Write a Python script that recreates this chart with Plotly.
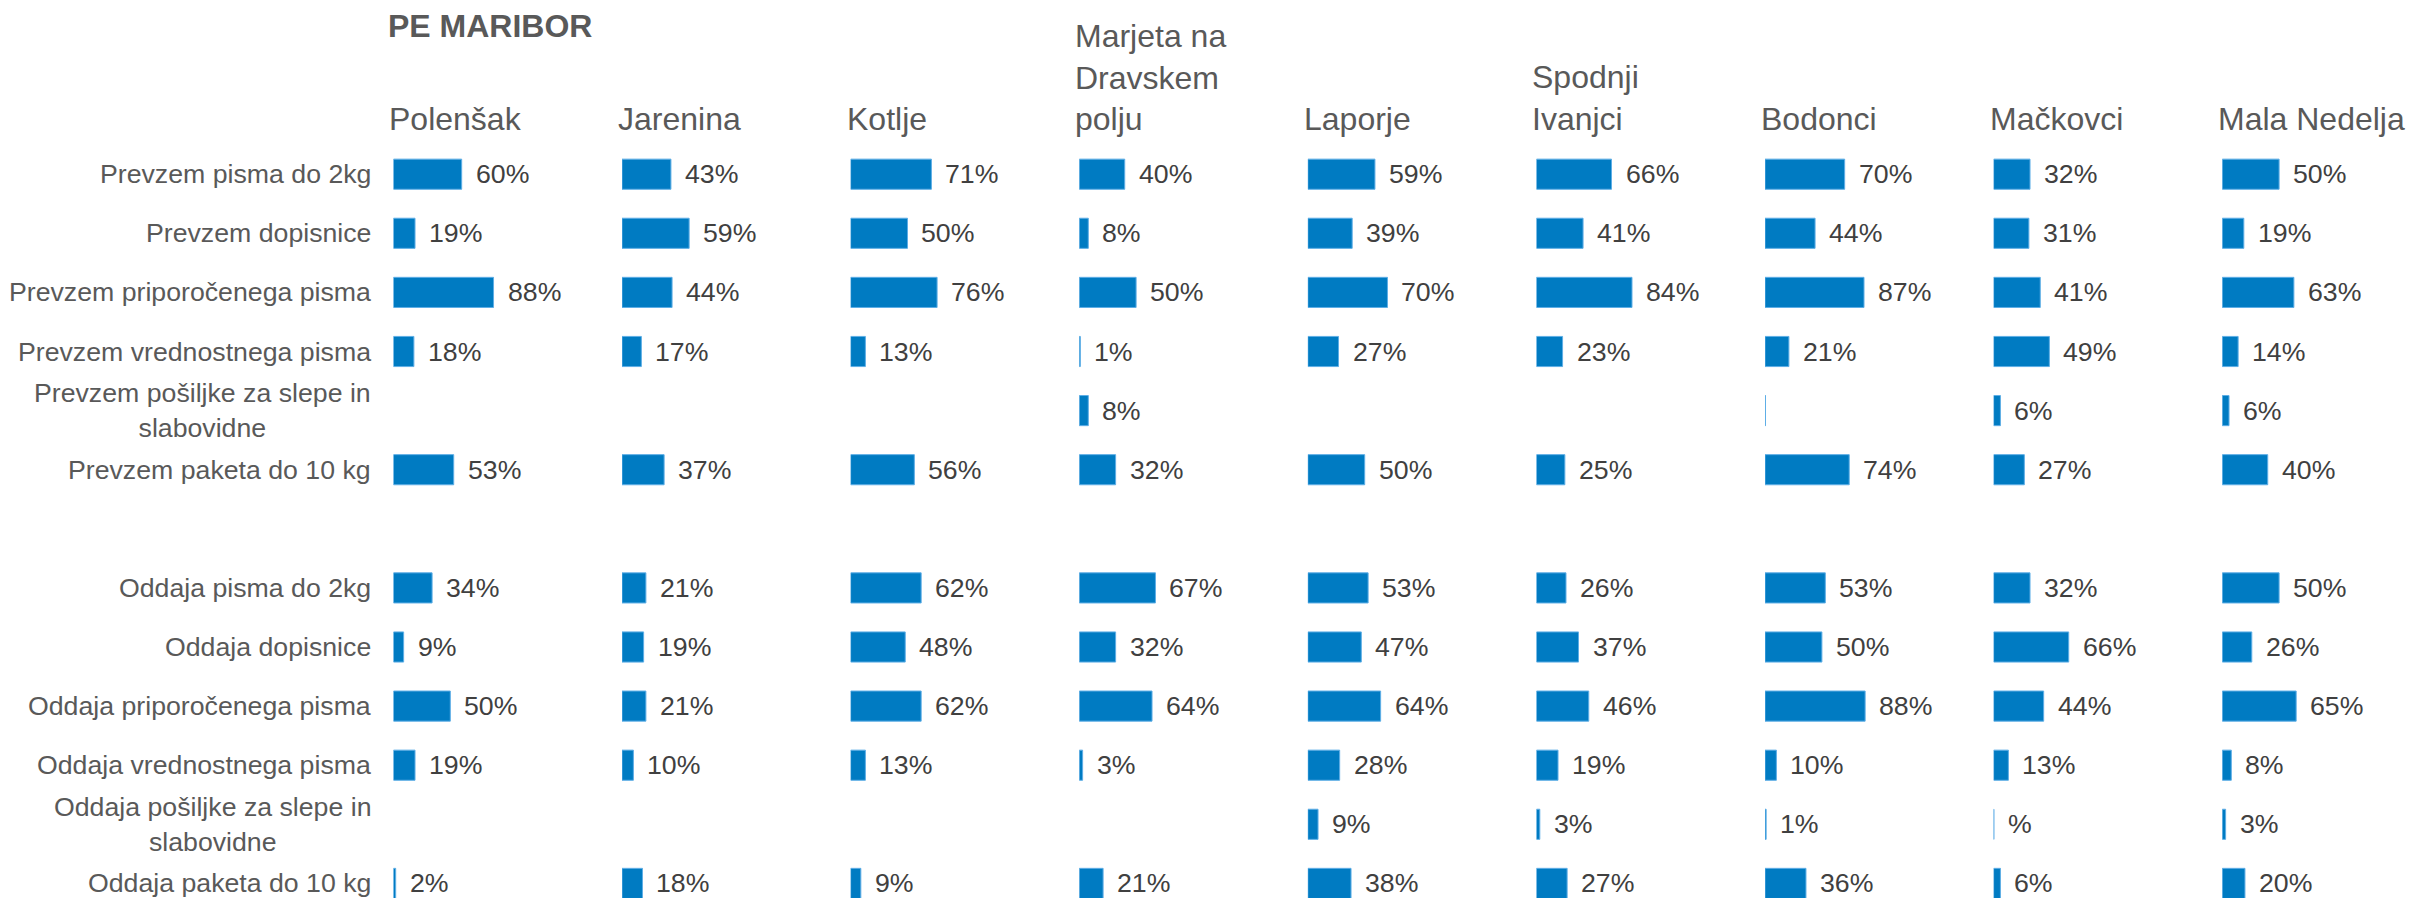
import plotly.graph_objects as go

# rows (top to bottom); the blank one is the gap between the two groups
categories = [
    "Prevzem pisma do 2kg",
    "Prevzem dopisnice",
    "Prevzem priporočenega pisma",
    "Prevzem vrednostnega pisma",
    "Prevzem pošiljke za slepe in<br>slabovidne",
    "Prevzem paketa do 10 kg",
    " ",
    "Oddaja pisma do 2kg",
    "Oddaja dopisnice",
    "Oddaja priporočenega pisma",
    "Oddaja vrednostnega pisma",
    "Oddaja pošiljke za slepe in<br>slabovidne",
    "Oddaja paketa do 10 kg",
]

locations = ["Polenšak", "Jarenina", "Kotlje", "Marjeta na<br>Dravskem<br>polju", "Laporje",
             "Spodnji<br>Ivanjci", "Bodonci", "Mačkovci", "Mala Nedelja"]

# percentages per location, same order as categories (None = no answer)
polensak = [60, 19, 88, 18, None, 53, None, 34, 9, 50, 19, None, 2]
jarenina = [43, 59, 44, 17, None, 37, None, 21, 19, 21, 10, None, 18]
kotlje = [71, 50, 76, 13, None, 56, None, 62, 48, 62, 13, None, 9]
marjeta = [40, 8, 50, 1, 8, 32, None, 67, 32, 64, 3, None, 21]
laporje = [59, 39, 70, 27, None, 50, None, 53, 47, 64, 28, 9, 38]
spodnji_ivanjci = [66, 41, 84, 23, None, 25, None, 26, 37, 46, 19, 3, 27]
bodonci = [70, 44, 87, 21, 0.4, 74, None, 53, 50, 88, 10, 1, 36]
mackovci = [32, 31, 41, 49, 6, 27, None, 32, 66, 44, 13, 0.3, 6]
mala_nedelja = [50, 19, 63, 14, 6, 40, None, 50, 26, 65, 8, 3, 20]

series = [polensak, jarenina, kotlje, marjeta, laporje, spodnji_ivanjci, bodonci, mackovci, mala_nedelja]

# labels that differ from the plain "n%" text
label_override = {("Bodonci", 4): "", ("Mačkovci", 11): "%"}

W, H = 2415, 898
TOP = 112
bar_color = "#007bc2"
label_grey = "#595959"
value_grey = "#404040"
font = "Liberation Sans, Arial, sans-serif"

col_start = 385.4
col_step = 228.6
px_per_pct = 1.138
panel_w = 180

fig = go.Figure()
annotations = []

for i, (loc, vals) in enumerate(zip(locations, series)):
    ax = "x" if i == 0 else f"x{i+1}"
    axname = "xaxis" if i == 0 else f"xaxis{i+1}"
    x0 = (col_start + i * col_step) / W
    x1 = (col_start + i * col_step + panel_w) / W
    fig.add_trace(go.Bar(
        y=categories,
        x=vals,
        orientation="h",
        xaxis=ax,
        yaxis="y",
        marker=dict(color=bar_color, line=dict(color="#5eaee6", width=1)),
        showlegend=False,
        hoverinfo="x+y",
    ))
    fig.layout[axname] = dict(domain=[x0, x1], range=[0, panel_w / px_per_pct],
                              visible=False, fixedrange=True)
    # header
    annotations.append(dict(
        text=loc, xref=f"{ax} domain", x=0, xshift=-6, yref="paper",
        y=(H - 131) / (H - TOP), xanchor="left", yanchor="bottom", align="left",
        showarrow=False, font=dict(family=font, size=32, color=label_grey)))
    # value labels
    short = loc.split("<br>")[0]
    for j, v in enumerate(vals):
        if v is None:
            continue
        txt = label_override.get((short, j), f"{v:g}%")
        if not txt:
            continue
        annotations.append(dict(
            text=txt, xref=ax, x=v, yref="y", y=categories[j], xanchor="left",
            xshift=12, showarrow=False, font=dict(family=font, size=26.7, color=value_grey)))

# row labels
for c in categories:
    if not c.strip():
        continue
    annotations.append(dict(
        text=c, xref="paper", x=365 / W, yref="y", y=c, xanchor="right", align="center",
        showarrow=False, font=dict(family=font, size=26.7, color=label_grey)))

n = len(categories)
pitch = 59.1
first_row, last_row = 166.2, 875.4
y_bottom = (n - 1) + (H - last_row) / pitch
y_top = -(first_row - TOP) / pitch

fig.update_layout(
    width=W, height=H,
    margin=dict(l=0, r=0, t=TOP, b=0),
    paper_bgcolor="white", plot_bgcolor="white",
    bargap=0.49,
    title=dict(text="<b>PE MARIBOR</b>", x=380 / W, xanchor="left", y=1 - 18 / H, yanchor="middle",
               font=dict(family=font, size=32, color=label_grey)),
    yaxis=dict(type="category", categoryorder="array", categoryarray=categories,
               range=[y_bottom, y_top], showticklabels=False, showgrid=False,
               zeroline=False, fixedrange=True),
    annotations=annotations,
)

fig.write_html("out.html")
